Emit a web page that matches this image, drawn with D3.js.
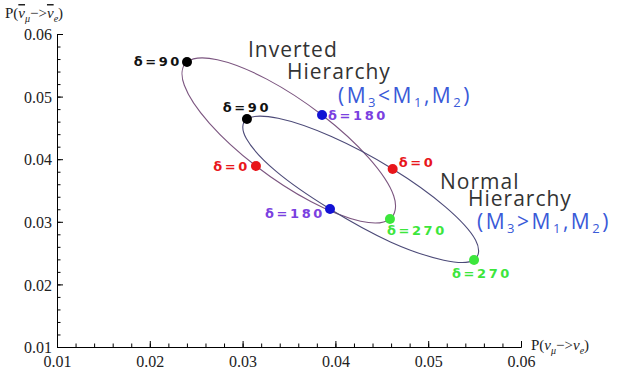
<!DOCTYPE html>
<html><head><meta charset="utf-8">
<script src="https://cdn.jsdelivr.net/npm/d3@7"></script>
<style>
html,body{margin:0;padding:0;background:#fff;}
svg{display:block;}
</style></head>
<body>
<svg id="chart" width="622" height="369"></svg>
<script>
// ---- data ----
const xTickValues = [0.01, 0.02, 0.03, 0.04, 0.05, 0.06];
const yTickValues = [0.01, 0.02, 0.03, 0.04, 0.05, 0.06];
const deltas = [0, 30, 60, 90, 120, 150, 180, 210, 240, 270, 300, 330];
// Inverted hierarchy ellipse (P(nu_mu->nu_e), P(anti))
const ihX = [0.03144, 0.02643, 0.02372, 0.02401, 0.02728, 0.03260, 0.03856, 0.04357, 0.04628, 0.04588, 0.04272, 0.03740];
const ihY = [0.03891, 0.04573, 0.05181, 0.05553, 0.05589, 0.05279, 0.04706, 0.04025, 0.03417, 0.03045, 0.03009, 0.03319];
// Normal hierarchy ellipse
const nhX = [0.04617, 0.03957, 0.03383, 0.03047, 0.03040, 0.03365, 0.03942, 0.04593, 0.05168, 0.05494, 0.05510, 0.05185];
const nhY = [0.03843, 0.04361, 0.04653, 0.04642, 0.04330, 0.03801, 0.03204, 0.02679, 0.02387, 0.02390, 0.02710, 0.03239];
const markedDeltas = [0, 90, 180, 270];

// ---- styles ----
const svg = d3.select("#chart");
const x = d3.scaleLinear().domain([0.01, 0.06]).range([57, 521]);
const y = d3.scaleLinear().domain([0.01, 0.06]).range([347, 34]);
const dotColor = {0: "#e8161b", 90: "#000000", 180: "#1212d4", 270: "#3ce63c"};
const labelColor = {0: "#e8161b", 90: "#111111", 180: "#7a40e0", 270: "#3ce63c"};

// axes
const tickFont = "'Liberation Serif', 'Times New Roman', serif";
const xMinor = d3.range(0.01, 0.0601, 0.002);
const yMinor = d3.range(0.01, 0.0601, 0.002);

const gxMinor = svg.append("g").attr("transform", `translate(0,${y(0.01)})`)
  .call(d3.axisBottom(x).tickValues(xMinor).tickSize(-3.5).tickFormat("").tickSizeOuter(0));
const gx = svg.append("g").attr("transform", `translate(0,${y(0.01)})`)
  .call(d3.axisBottom(x).tickValues(xTickValues).tickSize(-6).tickSizeOuter(0).tickPadding(6).tickFormat(d3.format(".2f")));
const gyMinor = svg.append("g").attr("transform", `translate(${x(0.01)},0)`)
  .call(d3.axisLeft(y).tickValues(yMinor).tickSize(-3.5).tickFormat("").tickSizeOuter(0));
const gy = svg.append("g").attr("transform", `translate(${x(0.01)},0)`)
  .call(d3.axisLeft(y).tickValues(yTickValues).tickSize(-6).tickSizeOuter(0).tickPadding(5).tickFormat(d3.format(".2f")));
[gx, gy, gxMinor, gyMinor].forEach(g => {
  g.selectAll("path,line").attr("stroke", "#000").attr("stroke-width", 1);
  g.selectAll("text").attr("fill", "#222").style("font-family", tickFont).style("font-size", "16px");
});
gx.selectAll("text").attr("dy", "0.85em");
gy.selectAll("text").attr("dy", "0.35em");

// axis titles
const yt = svg.append("text").attr("x", 5).attr("y", 18)
  .style("font-family", tickFont).style("font-size", "15px").attr("fill", "#222");
yt.append("tspan").text("P(");
yt.append("tspan").text("ν").style("font-style", "italic").style("text-decoration", "overline");
yt.append("tspan").text("μ").style("font-style", "italic").style("font-size", "10px").attr("dy", 4);
yt.append("tspan").text("−>").attr("dy", -4);
yt.append("tspan").text("ν").style("font-style", "italic").style("text-decoration", "overline");
yt.append("tspan").text("e").style("font-style", "italic").style("font-size", "10px").attr("dy", 4);
yt.append("tspan").text(")").attr("dy", -4);

const xt = svg.append("text").attr("x", 531).attr("y", 350)
  .style("font-family", tickFont).style("font-size", "15px").attr("fill", "#222");
xt.append("tspan").text("P(");
xt.append("tspan").text("ν").style("font-style", "italic");
xt.append("tspan").text("μ").style("font-style", "italic").style("font-size", "10px").attr("dy", 4);
xt.append("tspan").text("−>").attr("dy", -4);
xt.append("tspan").text("ν").style("font-style", "italic");
xt.append("tspan").text("e").style("font-style", "italic").style("font-size", "10px").attr("dy", 4);
xt.append("tspan").text(")").attr("dy", -4);

// ellipses
const line = d3.line().x(d => x(d[0])).y(d => y(d[1])).curve(d3.curveCardinalClosed.tension(0));
const ih = deltas.map((d, i) => [ihX[i], ihY[i], d]);
const nh = deltas.map((d, i) => [nhX[i], nhY[i], d]);
svg.append("path").attr("d", line(ih)).attr("fill", "none").attr("stroke", "#7c5680").attr("stroke-width", 1.1);
svg.append("path").attr("d", line(nh)).attr("fill", "none").attr("stroke", "#4c4a78").attr("stroke-width", 1.1);

// markers and labels
const labelPos = {
  ih: {0: [-6, 5, "end"], 90: [-5, 4, "end"], 180: [6, 5, "start"], 270: [-3, 16, "start"]},
  nh: {0: [6, -2, "start"], 90: [0, -7, "middle"], 180: [-5, 9, "end"], 270: [8, 18, "middle"]}
};
const labelFont = "'DejaVu Sans', sans-serif";
[["ih", ih], ["nh", nh]].forEach(([key, pts]) => {
  const marked = pts.filter(p => markedDeltas.includes(p[2]));
  svg.append("g").selectAll("circle").data(marked).join("circle")
    .attr("cx", d => x(d[0])).attr("cy", d => y(d[1])).attr("r", 5)
    .attr("fill", d => dotColor[d[2]]);
  svg.append("g").selectAll("text").data(marked).join("text")
    .attr("x", d => x(d[0]) + labelPos[key][d[2]][0])
    .attr("y", d => y(d[1]) + labelPos[key][d[2]][1])
    .attr("text-anchor", d => labelPos[key][d[2]][2])
    .attr("fill", d => labelColor[d[2]])
    .style("font-family", labelFont).style("font-size", "13px").style("font-weight", "bold")
    .style("letter-spacing", "2.6px")
    .text(d => "δ=" + d[2]);
});

// annotations
const annFont = "'Open Sans', Lato, sans-serif";
function ann(tx, ty, str, color) {
  return svg.append("text").attr("x", tx).attr("y", ty).attr("fill", color)
    .style("font-family", annFont).style("font-size", "21px").style("letter-spacing", "1px").text(str);
}
ann(248, 57, "Inverted", "#333");
ann(287, 79, "Hierarchy", "#333");
ann(440, 189, "Normal", "#333");
ann(468, 206, "Hierarchy", "#333");
function massLabel(tx, ty, op) {
  const t = svg.append("text").attr("x", tx).attr("y", ty).attr("fill", "#3a5ad8")
    .style("font-family", annFont).style("font-size", "21px").style("letter-spacing", "2.5px");
  t.append("tspan").text("(M");
  t.append("tspan").text("3").style("font-size", "13px").attr("dy", 4);
  t.append("tspan").text(op + "M").attr("dy", -4);
  t.append("tspan").text("1").style("font-size", "13px").attr("dy", 4);
  t.append("tspan").text(",M").attr("dy", -4);
  t.append("tspan").text("2").style("font-size", "13px").attr("dy", 4);
  t.append("tspan").text(")").attr("dy", -4);
}
massLabel(338, 103, "<");
massLabel(477, 229, ">");
</script>
</body></html>
